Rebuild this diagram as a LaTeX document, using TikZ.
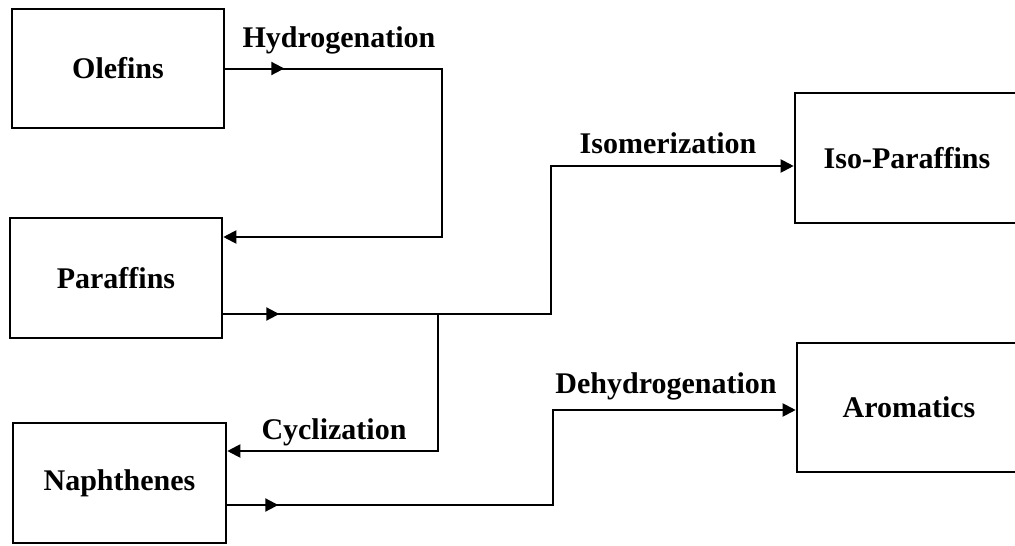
\documentclass[tikz,border=0pt]{standalone}
\usepackage{fontspec}
\setmainfont{Liberation Serif}
\usetikzlibrary{arrows.meta,decorations.markings}

\tikzset{
  box/.style={draw, line width=2.6pt, inner sep=0pt, font=\bfseries\fontsize{30}{36}\selectfont},
  lbl/.style={font=\bfseries\fontsize{30}{36}\selectfont},
  flow/.style={line width=2pt},
  endtip/.style={-{Triangle[length=13pt,width=13pt]}},
  midtip/.style={postaction=decorate, decoration={markings,
      mark=at position #1 with {\arrow{Triangle[length=13pt,width=13pt]}}}},
}

\begin{document}
\begin{tikzpicture}[x=1pt,y=-1pt]
\useasboundingbox (0,0) rectangle (1015,546);

\node[box, minimum width=212pt, minimum height=119pt] (olef) at (118,68.5) {Olefins};
\node[box, minimum width=212pt, minimum height=120pt] (para) at (116,278) {Paraffins};
\node[box, minimum width=213pt, minimum height=120pt] (naph) at (119.5,483) {Naphthenes};
\node[box, minimum width=224pt, minimum height=130pt] (isop) at (907,158) {Iso-Paraffins};
\node[box, minimum width=224pt, minimum height=129pt] (arom) at (909,407.5) {Aromatics};

\coordinate (hyd) at (442,237);
\coordinate (iso) at (551,166);
\coordinate (split) at (438,314);
\coordinate (cyc) at (438,451);
\coordinate (dehyd) at (553,410);

\draw[flow,endtip,midtip=59pt] (olef.east) -| (hyd) -- (para.east |- hyd);
\draw[flow,endtip,midtip=56pt] ([yshift=-36pt]para.east) -| (iso) -- (isop.west |- iso);
\draw[flow,endtip] (split) -- (cyc) -- (naph.east |- cyc);
\draw[flow,endtip,midtip=51pt] ([yshift=-22pt]naph.east) -| (dehyd) -- (arom.west |- dehyd);

\node[lbl] (hydlbl) at (339,40) {Hydrogenation};
\node[lbl] (isolbl) at (668,143) {Isomerization};
\node[lbl] (cyclbl) at (334,432) {Cyclization};
\node[lbl] (dehlbl) at (666,386) {Dehydrogenation};

\end{tikzpicture}
\end{document}
